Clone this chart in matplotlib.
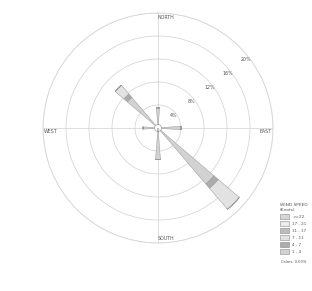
import numpy as np
import matplotlib
matplotlib.use("Agg")
import matplotlib.pyplot as plt
from matplotlib.patches import Patch

# ---- data ----
directions = [0, 90, 135, 180, 270, 315]          # degrees (blowing from)
speed_classes = ["1 - 4", "4 - 7", "7 - 11", "11 - 17", "17 - 21", ">=22"]
# frequency (%) per direction for each speed class
freq_1_4 = [3.5, 4.0, 12.8, 5.5, 2.6, 7.0]
freq_4_7 = [0.0, 0.0, 1.0, 0.0, 0.0, 0.8]
freq_7_11 = [0.0, 0.0, 4.8, 0.0, 0.0, 2.0]
freq_11_17 = [0, 0, 0, 0, 0, 0]
freq_17_21 = [0, 0, 0, 0, 0, 0]
freq_22 = [0, 0, 0, 0, 0, 0]
ring_values = [4, 8, 12, 16, 20]
ring_labels = ["4%", "8%", "12%", "16%", "20%"]
calms = "Calms: 0.00%"

colors = ["#d2d2d2", "#acacac", "#e2e2e2", "#bdbdbd", "#ececec", "#d6d6d6"]

fig = plt.figure(figsize=(3.12, 2.91), dpi=100)
ax = fig.add_axes([43/312, 48/291, 230/312, 230/291], projection="polar")
ax.set_theta_zero_location("N")
ax.set_theta_direction(-1)
ax.set_ylim(0, 20)

theta = np.deg2rad(directions)
width = np.deg2rad(9)
bottom = np.zeros(len(directions))
series = [freq_1_4, freq_4_7, freq_7_11, freq_11_17, freq_17_21, freq_22]
for vals, col in zip(series, colors):
    vals = np.array(vals, dtype=float)
    ax.bar(theta, vals, width=width, bottom=bottom, color=col,
           edgecolor="#999999", linewidth=0.35, zorder=3)
    bottom += vals

# grid
ax.set_yticks(ring_values)
ax.set_yticklabels([])
ax.set_xticks(np.deg2rad([0, 90, 180, 270]))
ax.set_xticklabels([])
ax.grid(color="#d4d4d4", linewidth=0.55)
ax.spines["polar"].set_color("#d4d4d4")
ax.spines["polar"].set_linewidth(0.55)

# calm circle
ax.bar(0, 0.6, width=2*np.pi, color="white", edgecolor="#8a8a8a",
       linewidth=0.4, zorder=4)

for v, lab in zip(ring_values, ring_labels):
    ax.text(np.deg2rad(52), v - 0.6, lab, fontsize=3.4, color="#555555",
            ha="center", va="center", zorder=5)

ax.text(np.deg2rad(4), 19.2, "NORTH", fontsize=3.4, color="#555555",
        ha="center", va="center")
ax.text(np.deg2rad(176), 19.3, "SOUTH", fontsize=3.4, color="#555555",
        ha="center", va="center")
ax.text(np.deg2rad(92), 18.8, "EAST", fontsize=3.4, color="#555555",
        ha="center", va="center")
ax.text(np.deg2rad(268), 18.6, "WEST", fontsize=3.4, color="#555555",
        ha="center", va="center")

handles = [Patch(facecolor=c, edgecolor="#8a8a8a", linewidth=0.4)
           for c in colors[::-1]]
leg = fig.legend(handles, speed_classes[::-1], title="WIND SPEED\n(Knots)",
                 loc="upper left", bbox_to_anchor=(277/312, 1 - 200/291),
                 fontsize=3.0, title_fontsize=3.2, frameon=False,
                 handlelength=2.2, handleheight=1.4, labelspacing=0.55,
                 handletextpad=0.8, borderpad=0.2, alignment="left")
for t in leg.get_texts():
    t.set_color("#555555")
leg.get_title().set_color("#555555")
fig.text(281/312, 1 - 262/291, calms, fontsize=2.6, color="#555555",
         ha="left", va="center")

fig.savefig("out.png", dpi=100, facecolor="white")
